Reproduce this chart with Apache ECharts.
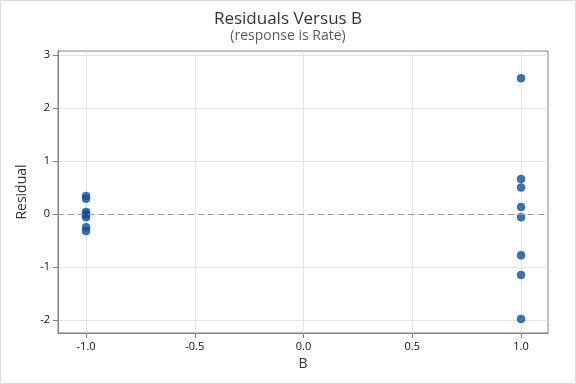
<!DOCTYPE html>
<html><head><meta charset="utf-8">
<script src="https://cdn.jsdelivr.net/npm/echarts@6/dist/echarts.min.js"></script>
<style>html,body{margin:0;padding:0;background:#fff}#c{width:576px;height:384px}</style>
</head><body><div id="c"></div>
<script>
const lowB = [-1,-1,-1,-1,-1,-1,-1,-1];
const lowResid = [0.34, 0.29, 0.04, 0.0, -0.02, -0.06, -0.25, -0.32];
const highB = [1,1,1,1,1,1,1,1];
const highResid = [2.56, 0.66, 0.50, 0.13, -0.06, -0.78, -1.15, -1.98];
const xTicks = [-1.0, -0.5, 0.0, 0.5, 1.0];
const yTicks = [-2, -1, 0, 1, 2, 3];

const pts = lowB.map((b,i)=>[b, lowResid[i]]).concat(highB.map((b,i)=>[b, highResid[i]]));
const chart = echarts.init(document.getElementById('c'));
const font = '"Open Sans", "Noto Sans", sans-serif';
chart.setOption({
  animation:false,
  title:{text:'Residuals Versus B', subtext:'(response is Rate)', left:'center', top:6, itemGap:1,
    textStyle:{fontFamily:font, fontSize:17, fontWeight:500, color:'#333'},
    subtextStyle:{fontFamily:font, fontSize:14, fontWeight:500, color:'#5a5a5a'}},
  grid:{left:58, right:28, top:51, bottom:51},
  xAxis:{type:'value', min:-1.129, max:1.124, name:'B', nameLocation:'middle', nameGap:24,
    nameTextStyle:{fontFamily:font, fontSize:14, fontWeight:500, color:'#333'},
    axisLine:{show:true, onZero:false, lineStyle:{color:'#808080'}},
    axisTick:{show:true, customValues:xTicks, length:5, lineStyle:{color:'#808080'}},
    axisLabel:{customValues:xTicks, formatter:v=>v.toFixed(1), fontFamily:font, fontSize:11, color:'#111', margin:8},
    splitLine:{show:true, lineStyle:{color:'#e4e4e4'}}},
  yAxis:{type:'value', min:-2.245, max:3.075, name:'Residual', nameLocation:'middle', nameGap:24,
    nameTextStyle:{fontFamily:font, fontSize:14, fontWeight:500, color:'#333'},
    axisLine:{show:true, onZero:false, lineStyle:{color:'#808080'}},
    axisTick:{show:true, customValues:yTicks, length:5, lineStyle:{color:'#808080'}},
    axisLabel:{customValues:yTicks, fontFamily:font, fontSize:11, color:'#111', margin:8},
    splitLine:{show:true, lineStyle:{color:'#e4e4e4'}}},
  series:[
    {type:'line', data:[], markLine:{silent:true, symbol:'none', label:{show:false},
      lineStyle:{color:'#999', type:[6,4], width:1}, data:[{yAxis:0}]}},
    {type:'scatter', data:pts, symbolSize:8, itemStyle:{color:'#0a52a3', borderColor:'#064a94', borderWidth:0.5}}
  ],
  graphic:[
    {type:'rect', shape:{x:58, y:51, width:490, height:282}, style:{fill:'none', stroke:'#808080', lineWidth:1}, silent:true},
    {type:'rect', shape:{x:0.5, y:0.5, width:575, height:383}, style:{fill:'none', stroke:'#dcdcdc', lineWidth:1}, silent:true}
  ]
});
</script></body></html>
